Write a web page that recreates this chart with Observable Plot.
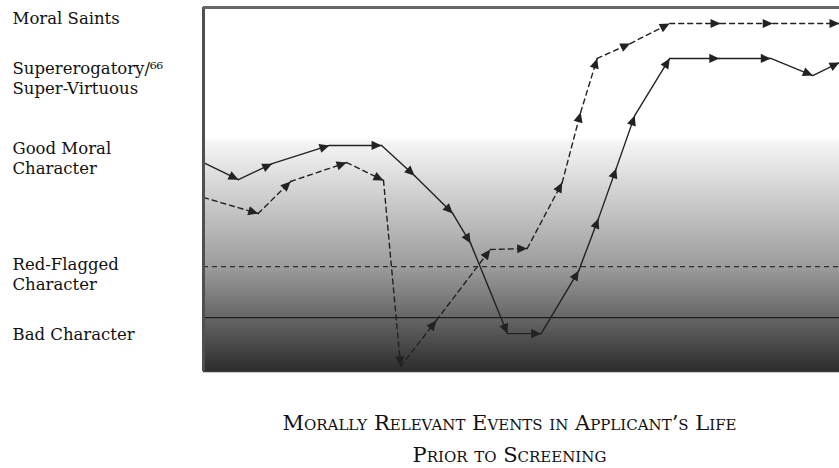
<!DOCTYPE html>
<html>
<head>
<meta charset="utf-8">
<script src="https://cdn.jsdelivr.net/npm/d3@7"></script>
<script src="https://cdn.jsdelivr.net/npm/@observablehq/plot@0.6"></script>
<style>
  html, body { margin: 0; padding: 0; background: #fff; overflow: hidden; }
  #caption {
    margin-left: 180px; width: 659px; text-align: center;
    font-family: "DejaVu Serif", serif; font-variant: small-caps;
    font-size: 21px; line-height: 32px; color: #111; padding-top: 17px;
  }
  #chart svg text { font-family: "DejaVu Serif", serif !important; }
</style>
</head>
<body>
<div id="chart"></div>
<div id="caption">Morally Relevant Events in Applicant’s Life<br>Prior to Screening</div>
<script>
// Event position (0–100 across the life timeline) and moral standing (0–100)
const solidX  = [0, 5.5, 10.8, 19.8, 28.0, 33.2, 39.2, 42.0, 47.8, 53.1, 59.0, 62.1, 64.9, 67.8, 73.3, 81.1, 89.2, 95.8, 100];
const solidY  = [57.4, 52.7, 57.1, 62.1, 62.1, 53.8, 43.4, 35.2, 10.4, 10.4, 27.7, 42.0, 55.8, 70.3, 86.0, 86.0, 86.0, 81.3, 84.9];
const dashedX = [0, 8.6, 13.7, 22.5, 28.3, 31.0, 36.6, 45.1, 50.9, 56.4, 59.3, 61.9, 67.1, 73.3, 81.3, 89.5, 100];
const dashedY = [47.8, 43.4, 52.2, 57.4, 52.5, 1.4, 14.0, 33.5, 33.8, 51.9, 71.2, 86.0, 90.1, 95.6, 95.6, 95.6, 95.6];

// Category labels on the left and their standing level
const levelLabels = ["Moral Saints", "Supererogatory/⁶⁶\nSuper-Virtuous", "Good Moral\nCharacter", "Red-Flagged\nCharacter", "Bad Character"];
const levelY      = [97.3, 80.8, 58.8, 26.9, 10.4];

// Threshold lines
const redFlagLevel = 28.8;
const badLevel = 14.8;

function segments(xs, ys) {
  const out = [];
  for (let i = 1; i < xs.length; i++) {
    out.push({x: xs[i - 1], y: ys[i - 1], seg: i});
    out.push({x: xs[i], y: ys[i], seg: i});
  }
  return out;
}

function tri(color) {
  const m = d3.create("svg:marker")
    .attr("viewBox", "-11 -6 12 12")
    .attr("markerWidth", 12).attr("markerHeight", 12)
    .attr("markerUnits", "userSpaceOnUse")
    .attr("orient", "auto")
    .attr("fill", color).attr("stroke", "none");
  m.append("path").attr("d", "M-10,-4.6L0,0L-10,4.6Z");
  return m.node();
}

const labels = levelLabels.map((t, i) => ({text: t, y: levelY[i]}));

const plot = Plot.plot({
  width: 839,
  height: 390,
  marginLeft: 203,
  marginRight: 0,
  marginTop: 7,
  marginBottom: 19,
  style: {fontFamily: "DejaVu Serif", background: "#fff"},
  x: {domain: [0, 100], axis: null},
  y: {domain: [0, 100], axis: null},
  marks: [
    Plot.frame({fill: "url(#bggrad)", stroke: "none"}),
    Plot.ruleY([redFlagLevel], {stroke: "#2e2e2e", strokeWidth: 1.3, strokeDasharray: "5,4"}),
    Plot.ruleY([badLevel], {stroke: "#1e1e1e", strokeWidth: 1.3}),
    Plot.line(segments(solidX, solidY), {x: "x", y: "y", z: "seg", stroke: "#222", strokeWidth: 1.4, markerEnd: tri}),
    Plot.line(segments(dashedX, dashedY), {x: "x", y: "y", z: "seg", stroke: "#222", strokeWidth: 1.4, strokeDasharray: "5,4", markerEnd: tri}),
    Plot.ruleX([0], {stroke: "#505050", strokeWidth: 3}),
    Plot.ruleY([100], {stroke: "#666", strokeWidth: 3}),
    Plot.ruleY([0], {stroke: "#3a3a3a", strokeWidth: 1.5}),
    Plot.text(labels, {y: "y", text: "text", frameAnchor: "left", dx: -191, textAnchor: "start", lineAnchor: "middle", lineHeight: 1.2, fontSize: 16.5, fill: "#111", fontFamily: "DejaVu Serif"})
  ]
});

plot.insertAdjacentHTML("afterbegin",
  `<defs><linearGradient id="bggrad" x1="0" y1="0" x2="0" y2="1">
    <stop offset="0" stop-color="#ffffff"/>
    <stop offset="0.355" stop-color="#ffffff"/>
    <stop offset="0.37" stop-color="#f5f5f5"/>
    <stop offset="0.712" stop-color="#9c9c9c"/>
    <stop offset="0.852" stop-color="#666666"/>
    <stop offset="1" stop-color="#2c2c2c"/>
  </linearGradient></defs>`);

document.getElementById("chart").appendChild(plot);
</script>
</body>
</html>
